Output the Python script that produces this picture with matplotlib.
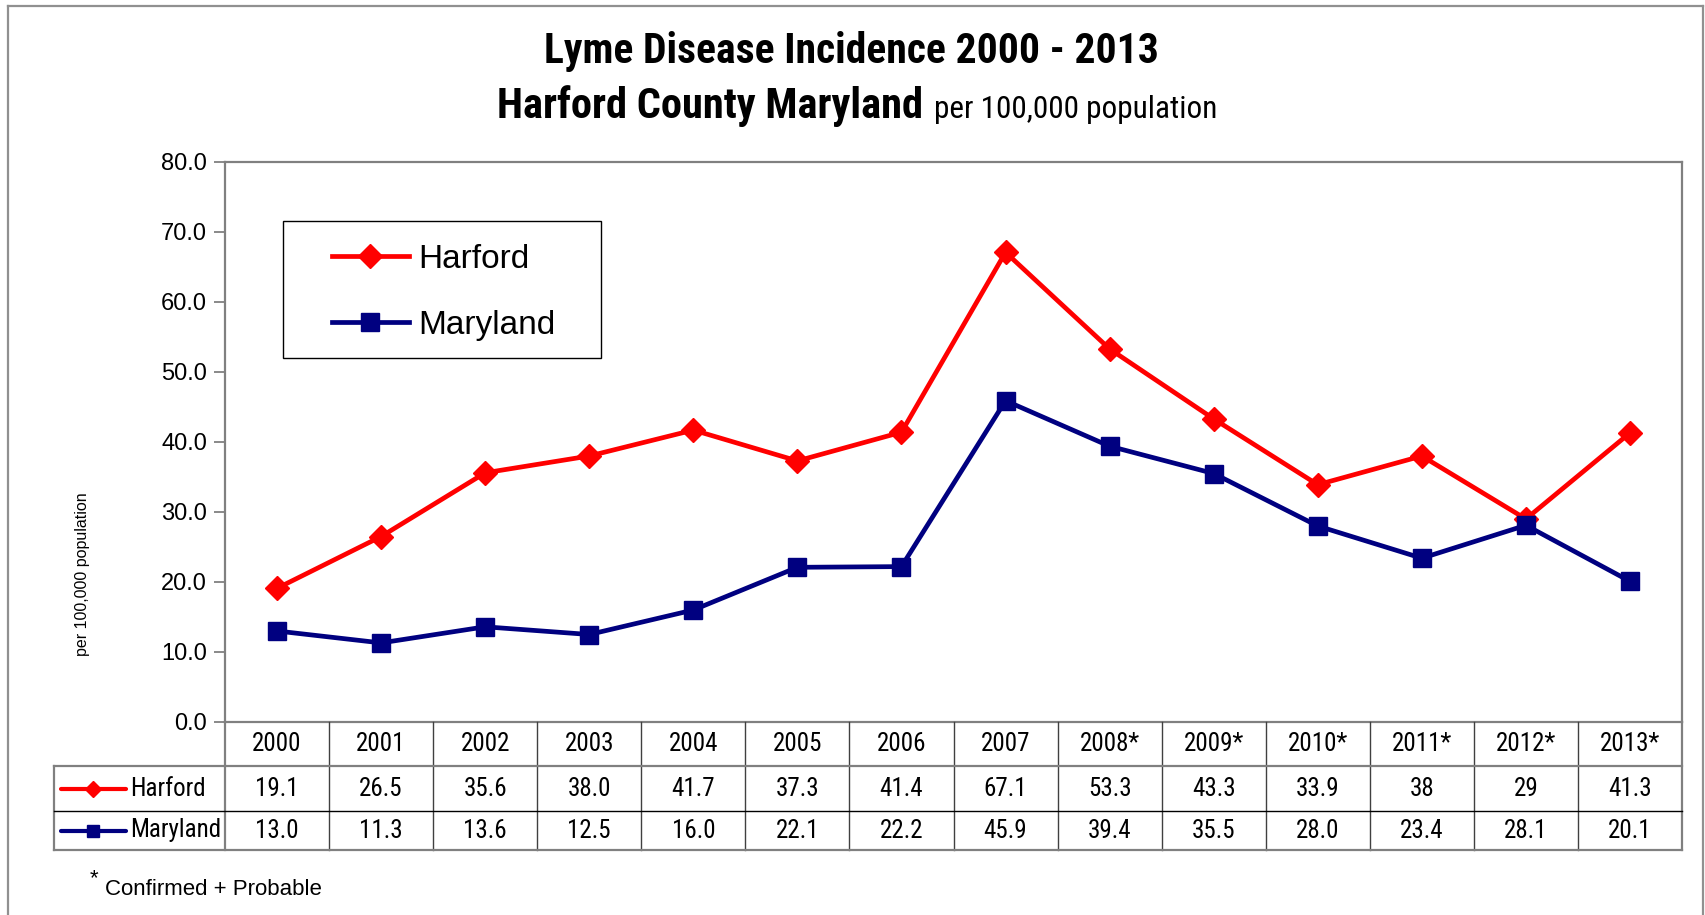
"""
Lyme disease incidence 2000-2013, Harford County vs Maryland, with data table.
"""

import matplotlib
matplotlib.use("Agg")
import matplotlib.pyplot as plt
from matplotlib.lines import Line2D
from matplotlib.patches import Rectangle
from matplotlib import font_manager

# --- data ---
years = ['2000', '2001', '2002', '2003', '2004', '2005', '2006', '2007',
         '2008*', '2009*', '2010*', '2011*', '2012*', '2013*']
harford = [19.1, 26.5, 35.6, 38.0, 41.7, 37.3, 41.4, 67.1, 53.3, 43.3, 33.9, 38, 29, 41.3]
maryland = [13.0, 11.3, 13.6, 12.5, 16.0, 22.1, 22.2, 45.9, 39.4, 35.5, 28.0, 23.4, 28.1, 20.1]
y_ticks = [0, 10, 20, 30, 40, 50, 60, 70, 80]

RED = '#FF0000'
NAVY = '#000080'
GRAY = '#808080'
ARIAL = ['Liberation Sans', 'DejaVu Sans']

# pick a condensed face if one is installed
names = {f.name for f in font_manager.fontManager.ttflist}
NARROW = [n for n in ['Liberation Sans Narrow', 'Roboto Condensed', 'DejaVu Sans Condensed']
          if n in names] + ARIAL

W, H = 1705, 915


def fx(px):
    return px / W


def fy(py):
    return 1 - py / H


def fmt(v):
    # the table shows whole numbers without a decimal
    return str(v) if isinstance(v, int) else f'{v:.1f}'


fig = plt.figure(figsize=(W / 100, H / 100), dpi=100)
fig.patch.set_facecolor('white')

# plot area
ax_l, ax_r, ax_t, ax_b = 225, 1682, 162, 722
ax = fig.add_axes([fx(ax_l), fy(ax_b), fx(ax_r) - fx(ax_l), (ax_b - ax_t) / H])
x = range(len(years))
ax.plot(x, harford, color=RED, lw=3.4, marker='D', ms=12, mec=RED,
        label='Harford', zorder=3, solid_joinstyle='round')
ax.plot(x, maryland, color=NAVY, lw=3.4, marker='s', ms=13, mec=NAVY,
        label='Maryland', zorder=3, solid_joinstyle='round')
ax.set_xlim(-0.5, len(years) - 0.5)
ax.set_ylim(0, 80)
ax.set_xticks([])
ax.set_yticks(y_ticks)
ax.set_yticklabels([f'{v:.1f}' for v in y_ticks], family=ARIAL, fontsize=17)
ax.tick_params(axis='y', direction='out', length=8, width=1.3, color=GRAY, pad=5)
for s in ax.spines.values():
    s.set_color(GRAY)
    s.set_linewidth(1.6)

fig.text(fx(82), fy(574), 'per 100,000 population', rotation=90,
         ha='center', va='center', fontsize=11.5, family=ARIAL)

# legend, with its own box
leg = ax.legend(loc='upper left', bbox_to_anchor=(fx(332), fy(244)),
                bbox_transform=fig.transFigure, frameon=False,
                prop={'family': ARIAL, 'size': 24}, handlelength=2.3,
                handletextpad=0.3, labelspacing=1.05, borderpad=0,
                borderaxespad=0, numpoints=1)
fig.patches.append(Rectangle((fx(283), fy(358)), fx(601) - fx(283), (358 - 221) / H,
                             transform=fig.transFigure, fill=False,
                             ec='black', lw=1.0))

# data table under the plot
tb_b = 850
tax = fig.add_axes([fx(ax_l), fy(tb_b), fx(ax_r) - fx(ax_l), (tb_b - ax_b) / H])
tax.set_xlim(-0.5, len(years) - 0.5)
row_edges = [0, 44, 89, 128]
tax.set_ylim(row_edges[-1], 0)
tax.axis('off')

unit_px = (ax_r - ax_l) / len(years)


def px2x(px):
    return (px - ax_l) / unit_px - 0.5


x_left = px2x(54)
n = len(years)
hdr_y = (row_edges[0] + row_edges[1]) / 2
har_y = (row_edges[1] + row_edges[2]) / 2
mar_y = (row_edges[2] + row_edges[3]) / 2

for i in range(n):
    tax.text(i, hdr_y, years[i], ha='center', va='center', fontsize=18, family=NARROW)
    tax.text(i, har_y, fmt(harford[i]), ha='center', va='center', fontsize=18, family=NARROW)
    tax.text(i, mar_y, fmt(maryland[i]), ha='center', va='center', fontsize=18, family=NARROW)

# grid
for i in range(1, n):
    tax.plot([i - 0.5, i - 0.5], [row_edges[0], row_edges[-1]], color='#404040', lw=1.0, clip_on=False)
for xe in (-0.5, n - 0.5):
    tax.plot([xe, xe], [row_edges[0], row_edges[-1]], color=GRAY, lw=1.6, clip_on=False)
tax.plot([x_left, x_left], [row_edges[1], row_edges[3]], color=GRAY, lw=1.6, clip_on=False)
tax.plot([x_left, n - 0.5], [row_edges[1]] * 2, color=GRAY, lw=1.6, clip_on=False)
tax.plot([x_left, n - 0.5], [row_edges[2]] * 2, color='black', lw=1.0, clip_on=False)
tax.plot([x_left, n - 0.5], [row_edges[3]] * 2, color=GRAY, lw=1.6, clip_on=False)

# row labels with small legend keys
for yy, lab, col, mk, ms in [(har_y, 'Harford', RED, 'D', 8), (mar_y, 'Maryland', NAVY, 's', 9)]:
    tax.plot([px2x(61), px2x(126)], [yy, yy], color=col, lw=3, clip_on=False,
             solid_capstyle='round')
    tax.plot([px2x(93)], [yy], color=col, marker=mk, ms=ms, mec=col, clip_on=False)
    tax.text(px2x(130), yy, lab, ha='left', va='center', fontsize=18, family=NARROW)

# titles
fig.text(fx(851), fy(63), 'Lyme Disease Incidence 2000 - 2013', ha='center',
         va='baseline', fontsize=30, fontweight='bold', family=NARROW)
fig.text(fx(923), fy(118), 'Harford County Maryland', ha='right',
         va='baseline', fontsize=30.5, fontweight='bold', family=NARROW)
fig.text(fx(934), fy(118), 'per 100,000 population', ha='left',
         va='baseline', fontsize=22.5, family=NARROW)

# footnote
fig.text(fx(90), fy(884), '*', ha='left', va='baseline', fontsize=16, family=ARIAL)
fig.text(fx(105), fy(895), 'Confirmed + Probable', ha='left', va='baseline',
         fontsize=16, family=ARIAL)

# outer chart frame
for xs, ys in [([fx(8), fx(8)], [0, fy(6)]),
               ([fx(8), fx(1703)], [fy(6), fy(6)]),
               ([fx(1703), fx(1703)], [fy(6), 0])]:
    fig.lines.append(Line2D(xs, ys, transform=fig.transFigure, color='#909090', lw=1.6))

fig.savefig('out.png', dpi=100)
